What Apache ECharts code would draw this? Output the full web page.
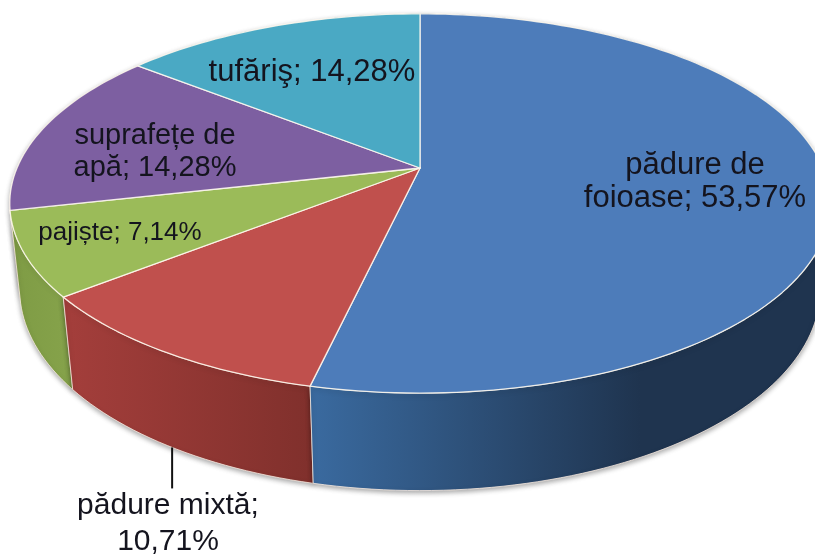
<!DOCTYPE html>
<html>
<head>
<meta charset="utf-8">
<style>
  html, body { margin: 0; padding: 0; background: #fff; }
  #chart { width: 815px; height: 555px; overflow: hidden; }
</style>
<script src="https://cdn.jsdelivr.net/npm/echarts@6/dist/echarts.min.js"></script>
</head>
<body>
<div id="chart"></div>
<script>
// slice data, clockwise from 12 o'clock
const categories = ['pădure de foioase', 'pădure mixtă', 'pajiște', 'suprafețe de apă', 'tufăriş'];
const values = [53.57, 10.71, 7.14, 14.28, 14.28];
const labels = ['pădure de\nfoioase; 53,57%', 'pădure mixtă;\n10,71%', 'pajiște; 7,14%', 'suprafețe de\napă; 14,28%', 'tufăriş; 14,28%'];

// styling
const topColors = ['#4d7cba', '#c0504d', '#9bbb59', '#7d5fa1', '#4aa9c4'];
const wallStops = [
    ['#3a6a9f', '#1f344f'],
    ['#a33e3b', '#80302c'],
    ['#7f9c45', '#86a34b'],
    ['#5f4679', '#5f4679'],
    ['#37819a', '#37819a']
];
const wallGradientX = [[312, 640], [70, 312], [15, 73], [10, 140], [140, 420]];
const labelPos = [[695, 182], [168, 524], [120, 233], [155, 152], [312, 72]];
const labelSize = [31, 30, 26, 29, 31];
const labelLine = [33, 36, 30, 32, 34];

// perspective of the pie plane, fitted to the picture
const cx = 420, cy = 168, rx = 403, ry = 183, tilt = 0.187;
const depth = 87, depthShrink = 0.024;
const total = values.reduce((a, b) => a + b, 0);

function project(angle, r, down) {
    const u = Math.sin(angle) * r;
    const v = -Math.cos(angle) * r;
    const w = 1 - tilt * v + (down ? depthShrink : 0);
    return [cx + rx * u / w, cy + (ry * v + (down ? depth : 0)) / w];
}

function sliceAngles(index) {
    let before = 0;
    for (let i = 0; i < index; i++) before += values[i];
    return [before / total * Math.PI * 2, (before + values[index]) / total * Math.PI * 2];
}

function rim(a0, a1, down) {
    const pts = [];
    const steps = Math.max(4, Math.ceil((a1 - a0) * 40));
    for (let i = 0; i <= steps; i++) {
        pts.push(project(a0 + (a1 - a0) * i / steps, 1, down));
    }
    return pts;
}

function renderWall(params) {
    // walls are fed in reverse so the front ones are painted last
    const i = values.length - 1 - params.dataIndex;
    const [a0, a1] = sliceAngles(i);
    return {
        type: 'polygon',
        shape: { points: rim(a0, a1, false).concat(rim(a0, a1, true).reverse()) },
        style: {
            fill: {
                type: 'linear', global: true,
                x: wallGradientX[i][0], y: 0, x2: wallGradientX[i][1], y2: 0,
                colorStops: [
                    { offset: 0, color: wallStops[i][0] },
                    { offset: 1, color: wallStops[i][1] }
                ]
            },
            stroke: 'rgba(255,240,230,0.75)',
            lineWidth: 1,
            shadowColor: 'rgba(0,0,0,0.35)',
            shadowBlur: 5,
            shadowOffsetY: 2
        }
    };
}

function renderTop(params) {
    const i = params.dataIndex;
    const [a0, a1] = sliceAngles(i);
    return {
        type: 'polygon',
        shape: { points: [[cx, cy]].concat(rim(a0, a1, false)) },
        style: { fill: topColors[i], stroke: 'rgba(255,250,240,0.85)', lineWidth: 1.3, lineJoin: 'round' }
    };
}

function renderLabel(params) {
    const i = params.dataIndex;
    const children = [{
        type: 'text',
        style: {
            x: labelPos[i][0],
            y: labelPos[i][1],
            text: labels[i],
            fill: '#14141e',
            font: labelSize[i] + 'px "Liberation Sans", Arial, sans-serif',
            lineHeight: labelLine[i],
            align: 'center',
            verticalAlign: 'middle'
        }
    }];
    // leader line for the label that sits outside the pie
    if (categories[i] === 'pădure mixtă') {
        const [a0, a1] = sliceAngles(i);
        const p = project((a0 + a1) / 2, 1, true);
        children.push({
            type: 'line',
            shape: { x1: p[0], y1: p[1], x2: p[0], y2: p[1] + 41 },
            style: { stroke: '#111', lineWidth: 2 }
        });
    }
    return { type: 'group', children: children };
}

const chart = echarts.init(document.getElementById('chart'), null, { renderer: 'canvas' });
chart.setOption({
    backgroundColor: '#fff',
    animation: false,
    series: [
        { type: 'custom', coordinateSystem: 'none', silent: true, z: 1, renderItem: renderWall, data: values.slice().reverse() },
        { type: 'custom', coordinateSystem: 'none', silent: true, z: 2, renderItem: renderTop, data: values },
        { type: 'custom', coordinateSystem: 'none', silent: true, z: 3, renderItem: renderLabel, data: values }
    ]
});
</script>
</body>
</html>
